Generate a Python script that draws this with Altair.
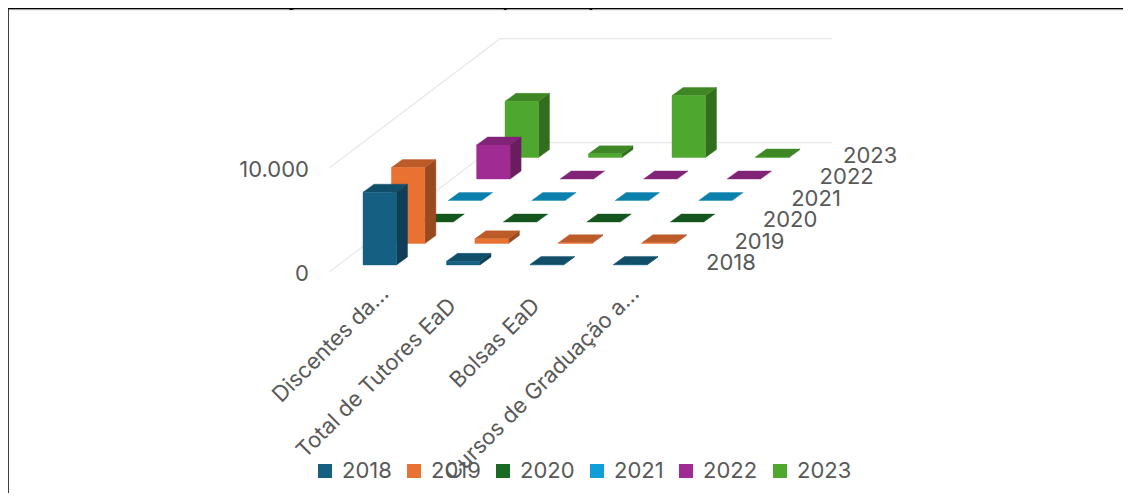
import altair as alt
import pandas as pd

WIDTH, HEIGHT = 1115, 485
FONT = "Inter"
TEXT = "#595959"
FONT_SIZE = 22

categories = ["Discentes da…", "Total de Tutores EaD", "Bolsas EaD", "Cursos de Graduação a…"]
years = ["2018", "2019", "2020", "2021", "2022", "2023"]
colors = ["#156082", "#E97132", "#196B24", "#0F9ED5", "#A02B93", "#4EA72E"]
top_colors = ["#114E69", "#BC5B28", "#14561D", "#0C80AC", "#812377", "#3F8725"]
side_colors = ["#0E3F56", "#994A21", "#114717", "#0A688C", "#691C60", "#336E1E"]

v2018 = [7000, 350, 50, 50]
v2019 = [7300, 450, 80, 80]
v2020 = [0, 0, 0, 0]
v2021 = [0, 0, 0, 0]
v2022 = [3270, 0, 0, 0]
v2023 = [5400, 350, 5960, 50]
series = [v2018, v2019, v2020, v2021, v2022, v2023]

tick_values = [0, 10000]
tick_labels = ["0", "10.000"]
title_text = "Gráfico 25 – Graduação a Distância (SEAD)"


def project(col, ser, value=0.0):
    """Oblique projection of (category, series, value) to the x / y scales."""
    return 363 + 83.5 * col + 28.4 * ser, 265 - 21.5 * ser - 0.0104 * value


xs = alt.Scale(domain=[8, 8 + WIDTH], range=[0, WIDTH], nice=False, zero=False)
ys = alt.Scale(domain=[8, 8 + HEIGHT], range=[0, HEIGHT], nice=False, zero=False)
X = alt.X("x:Q", scale=xs, axis=None)
Y = alt.Y("y:Q", scale=ys, axis=None)

BAR_W, DX, DY = 33.5, 11.0, 8.0
face_layers = []


def add_poly(shade, pts):
    df = pd.DataFrame([dict(o=o, x=float(x), y=float(y)) for o, (x, y) in enumerate(pts)])
    face_layers.append(
        alt.Chart(df)
        .mark_line(fill=shade, stroke=shade, strokeWidth=0.4)
        .encode(x=X, y=Y, order="o:Q")
    )


for s in range(len(years) - 1, -1, -1):
    for c in range(len(categories) - 1, -1, -1):
        v = series[s][c]
        x0, base = project(c, s)
        _, top = project(c, s, v)
        x1 = x0 + BAR_W
        if v > 0:
            add_poly(side_colors[s], [(x1, base), (x1 + DX, base - DY), (x1 + DX, top - DY), (x1, top), (x1, base)])
        add_poly(top_colors[s], [(x0, top), (x1, top), (x1 + DX, top - DY), (x0 + DX, top - DY), (x0, top)])
        if v > 0:
            add_poly(colors[s], [(x0, base), (x1, base), (x1, top), (x0, top), (x0, base)])

S0, S1, C0, C1 = -0.31, 5.69, -0.295, 3.68
grid_rows = []
for i, t in enumerate(tick_values):
    a = project(C0, S0, t)
    b = project(C0, S1, t)
    d = project(C1, S1, t)
    for j, p in enumerate([a, b, d]):
        grid_rows.append(dict(g=i, o=j, x=p[0], y=p[1]))
grid = (
    alt.Chart(pd.DataFrame(grid_rows))
    .mark_line(color="#E8E8E8", strokeWidth=1.2)
    .encode(x=X, y=Y, detail="g:N", order="o:Q")
)

val_df = pd.DataFrame(
    [dict(x=309, y=project(C0, S0, t)[1] + 2, t=l) for t, l in zip(tick_values, tick_labels)]
)
val_text = (
    alt.Chart(val_df)
    .mark_text(align="right", baseline="middle", font=FONT, fontSize=FONT_SIZE, color=TEXT)
    .encode(x=X, y=Y, text="t:N")
)

ser_df = pd.DataFrame(
    [dict(x=project(4, i)[0] + 9 - (5 if i == 5 else 0), y=project(4, i)[1] - 2, t=l)
     for i, l in enumerate(years)]
)
ser_text = (
    alt.Chart(ser_df)
    .mark_text(align="left", baseline="middle", font=FONT, fontSize=FONT_SIZE, color=TEXT)
    .encode(x=X, y=Y, text="t:N")
)

cat_dx = [22, 6, 6, 22]
cat_y = [290, 302, 302, 290]
cat_df = pd.DataFrame(
    [dict(x=project(i, 0)[0] + cat_dx[i], y=cat_y[i], t=l) for i, l in enumerate(categories)]
)
cat_text = (
    alt.Chart(cat_df)
    .mark_text(align="right", baseline="middle", angle=315, font=FONT, fontSize=FONT_SIZE, color=TEXT)
    .encode(x=X, y=Y, text="t:N")
)

leg_df = pd.DataFrame(dict(x=[500] * 6, y=[250] * 6, year=years))
legend_layer = (
    alt.Chart(leg_df)
    .mark_square(opacity=0, size=1)
    .encode(
        x=X,
        y=Y,
        color=alt.Color(
            "year:N",
            scale=alt.Scale(domain=years, range=colors),
            legend=alt.Legend(
                title=None,
                orient="none",
                legendX=306,
                legendY=452,
                direction="horizontal",
                columns=6,
                columnPadding=11,
                symbolType="square",
                symbolSize=196,
                symbolOpacity=1,
                symbolStrokeWidth=0,
                labelFont=FONT,
                labelFontSize=FONT_SIZE,
                labelColor=TEXT,
                labelOffset=6,
            ),
        ),
    )
)

frame_df = pd.DataFrame(dict(x=[8, 8, 8 + WIDTH], y=[8 + HEIGHT, 8.5, 8.5]))
frame_df["o"] = range(3)
frame = (
    alt.Chart(frame_df)
    .mark_line(color="black", strokeWidth=1.5)
    .encode(x=X, y=Y, order="o:Q")
)
shadow_df = pd.DataFrame(dict(x=[9, 8 + WIDTH], y=[9.8, 9.8], o=[0, 1]))
shadow = (
    alt.Chart(shadow_df)
    .mark_line(color="#BDBDBD", strokeWidth=0.8)
    .encode(x=X, y=Y, order="o:Q")
)

title_df = pd.DataFrame(dict(x=[12], y=[4], t=[title_text]))
title = (
    alt.Chart(title_df)
    .mark_text(align="left", baseline="alphabetic", font="Liberation Sans", fontSize=30, color="black")
    .encode(x=X, y=Y, text="t:N")
)

chart = (
    alt.layer(grid, *face_layers, val_text, ser_text, cat_text, legend_layer, shadow, frame, title)
    .properties(
        width=WIDTH,
        height=HEIGHT,
        padding=0,
        autosize=alt.AutoSizeParams(type="none"),
    )
    .configure_view(stroke=None)
)
chart.save("out.html", embed_options={"renderer": "svg", "actions": False})
